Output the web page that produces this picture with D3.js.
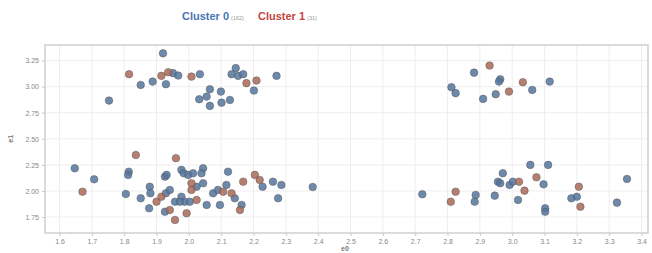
<!DOCTYPE html>
<html>
<head>
<meta charset="utf-8">
<script src="https://cdn.jsdelivr.net/npm/d3@7"></script>
<style>
  body { margin: 0; background: #fff; }
  text { font-family: "Liberation Sans", Arial, sans-serif; }
</style>
</head>
<body>
<div id="chart"></div>
<script>
// cluster 0 points [e0, e1]
var cluster0 = [
  [1.920, 3.32], [1.753, 2.867], [1.851, 3.017], [1.888, 3.049], [1.951, 3.130],
  [1.967, 3.107], [1.929, 3.024], [2.034, 3.12], [2.065, 2.976], [2.032, 2.88],
  [2.055, 2.905], [2.065, 2.816], [2.099, 2.953], [2.101, 2.847], [2.127, 2.873],
  [2.145, 3.178], [2.132, 3.12], [2.152, 3.104], [2.168, 3.12], [2.201, 2.963],
  [2.271, 3.104],
  [2.812, 2.995], [2.825, 2.938], [2.882, 3.135], [2.963, 3.072], [2.959, 3.049],
  [2.910, 2.883], [2.949, 2.928], [3.062, 2.969], [3.116, 3.049],
  [1.647, 2.218], [1.707, 2.112], [1.814, 2.185], [1.812, 2.154], [1.805, 1.971],
  [1.851, 1.93], [1.879, 2.041], [1.881, 1.978], [1.877, 1.834], [1.926, 2.137],
  [1.931, 2.154], [1.929, 1.978], [1.941, 2.01], [1.957, 1.897], [1.926, 1.801],
  [1.977, 2.202], [1.984, 2.17], [1.998, 2.154], [2.013, 2.17], [2.044, 2.218],
  [2.039, 2.17], [2.024, 2.041], [2.044, 2.074], [1.977, 1.945], [1.987, 1.897],
  [1.972, 1.897], [2.003, 1.897], [2.055, 1.866], [2.075, 1.978], [2.090, 2.01],
  [2.096, 1.866], [2.121, 2.185], [2.116, 2.058], [2.142, 1.93], [2.163, 1.866],
  [2.228, 2.041], [2.260, 2.089], [2.286, 2.058], [2.276, 1.93], [2.383, 2.038],
  [2.722, 1.968], [2.887, 1.962], [2.884, 1.897], [2.946, 1.955], [2.971, 2.17],
  [2.956, 2.089], [2.963, 2.074], [2.992, 2.058], [3.002, 2.089], [3.018, 1.914],
  [3.056, 2.25], [3.111, 2.25], [3.097, 2.064], [3.102, 1.834], [3.102, 1.801],
  [3.183, 1.93], [3.200, 1.945], [3.324, 1.888], [3.355, 2.115]
]
// cluster 1 points [e0, e1]
var cluster1 = [
  [1.815, 3.12], [1.915, 3.104], [1.936, 3.139], [2.008, 3.097], [2.178, 3.034],
  [2.209, 3.059],
  [2.930, 3.203], [2.990, 2.953], [3.033, 3.043],
  [1.671, 1.993], [1.836, 2.345], [1.900, 1.897], [1.915, 1.945], [1.941, 1.818],
  [1.957, 1.722], [1.960, 2.314], [2.008, 2.074], [2.008, 2.01], [2.024, 1.914],
  [1.993, 1.786], [2.106, 1.993], [2.132, 1.978], [2.158, 1.818], [2.168, 2.089],
  [2.204, 2.154], [2.219, 2.106],
  [2.825, 1.993], [2.810, 1.897], [3.021, 2.089], [3.038, 2.003], [3.075, 2.131],
  [3.206, 2.041], [3.211, 1.849]
]
var clusterNames = ["Cluster 0", "Cluster 1"]
var clusterCounts = ["(162)", "(31)"]
var xTicks = [1.6, 1.7, 1.8, 1.9, 2.0, 2.1, 2.2, 2.3, 2.4, 2.5, 2.6, 2.7, 2.8, 2.9, 3.0, 3.1, 3.2, 3.3, 3.4]
var yTicks = [1.75, 2.00, 2.25, 2.50, 2.75, 3.00, 3.25]

var width = 652, height = 253
var margin = { top: 45, right: 4, bottom: 20, left: 45 }
var colors = ["#54769f", "#aa6857"]
var legendColors = ["#4a74b4", "#c4453f"]

var svg = d3.select("#chart").append("svg")
    .attr("width", width)
    .attr("height", height)

var x = d3.scaleLinear()
    .domain([1.555, 3.42])
    .range([margin.left, width - margin.right])
var y = d3.scaleLinear()
    .domain([1.597, 3.4])
    .range([height - margin.bottom, margin.top])

// grid
svg.append("g").selectAll("line").data(xTicks).enter().append("line")
    .attr("x1", d => x(d)).attr("x2", d => x(d))
    .attr("y1", margin.top).attr("y2", height - margin.bottom)
    .attr("stroke", "#eeeeee")
svg.append("g").selectAll("line").data(yTicks).enter().append("line")
    .attr("y1", d => y(d)).attr("y2", d => y(d))
    .attr("x1", margin.left).attr("x2", width - margin.right)
    .attr("stroke", "#eeeeee")

svg.append("rect")
    .attr("x", margin.left).attr("y", margin.top)
    .attr("width", width - margin.left - margin.right)
    .attr("height", height - margin.top - margin.bottom)
    .attr("fill", "none")
    .attr("stroke", "#cfcfcf")
    .attr("stroke-width", 1.5)

// axes
var xAxis = svg.append("g")
    .attr("transform", "translate(0," + (height - margin.bottom) + ")")
    .call(d3.axisBottom(x).tickValues(xTicks).tickFormat(d3.format(".1f")).tickSize(3).tickPadding(3))
var yAxis = svg.append("g")
    .attr("transform", "translate(" + margin.left + ",0)")
    .call(d3.axisLeft(y).tickValues(yTicks).tickFormat(d3.format(".2f")).tickSize(3).tickPadding(3))
;[xAxis, yAxis].forEach(function (ax) {
    ax.select(".domain").remove()
    ax.selectAll("line").attr("stroke", "#c8c8c8")
    ax.selectAll("text").attr("fill", "#888").attr("font-size", 7)
})

svg.append("text")
    .attr("x", 345).attr("y", 251)
    .attr("text-anchor", "middle")
    .attr("font-size", 7).attr("font-weight", "bold").attr("fill", "#777")
    .text("e0")
svg.append("text")
    .attr("transform", "translate(13," + y(2.5) + ") rotate(-90)")
    .attr("text-anchor", "middle")
    .attr("font-size", 7).attr("font-weight", "bold").attr("fill", "#777")
    .text("e1")

// points
;[cluster0, cluster1].forEach(function (pts, i) {
    svg.append("g").selectAll("circle").data(pts).enter().append("circle")
        .attr("cx", d => x(d[0]))
        .attr("cy", d => y(d[1]))
        .attr("r", 3.8)
        .attr("fill", colors[i])
        .attr("fill-opacity", 0.85)
        .attr("stroke", "#555")
        .attr("stroke-opacity", 0.6)
        .attr("stroke-width", 0.8)
})

// legend
var lx = [182, 258]
clusterNames.forEach(function (name, i) {
    var t = svg.append("text")
        .attr("x", lx[i]).attr("y", 20)
        .attr("font-size", 11).attr("font-weight", "bold")
        .attr("fill", legendColors[i])
    t.append("tspan").text(name)
    t.append("tspan").attr("dx", 2).attr("font-size", 5.5).attr("font-weight", "normal")
        .attr("fill", "#999").text(clusterCounts[i])
})
</script>
</body>
</html>
